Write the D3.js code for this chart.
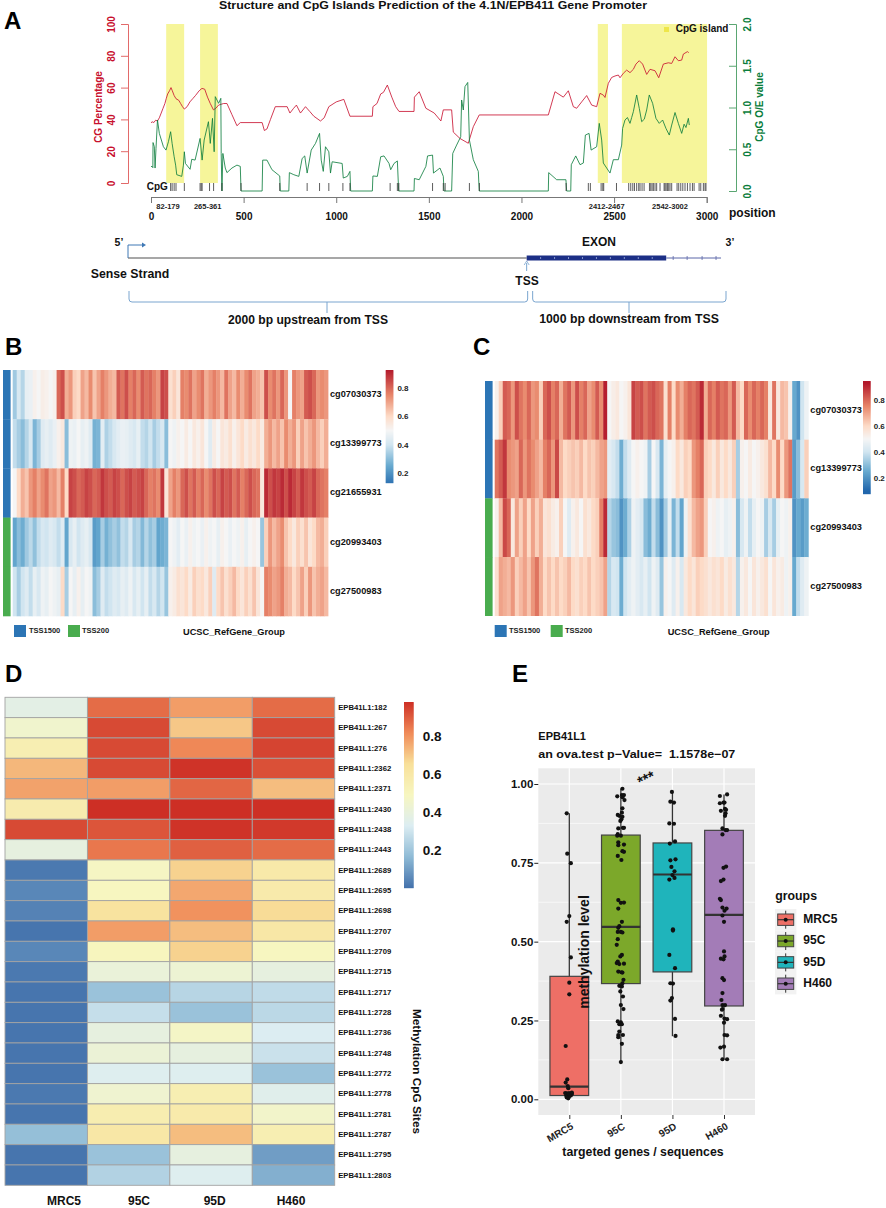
<!DOCTYPE html>
<html><head><meta charset="utf-8">
<script src="https://cdnjs.cloudflare.com/ajax/libs/d3/7.8.5/d3.min.js"></script>
<style>html,body{margin:0;padding:0;background:#fff}svg{display:block}text{font-family:"Liberation Sans",Arial,sans-serif;font-weight:bold}</style>
</head><body><svg id="c" width="886" height="1208"></svg>
<script>
// ---------- Panel A data ----------
const cgPos=[0,10,15,25,35,45,55,65,75,82,90,100,108,115,125,135,150,160,170,180,195,210,225,240,260,275,290,305,320,337,350,365,392,410,437,464,482,600,612,626,645,671,735,750,770,785,807,834,857,879,915,935,960,1000,1041,1074,1195,1198,1220,1240,1255,1276,1300,1321,1339,1420,1422,1448,1484,1529,1565,1578,1623,1632,1668,1713,1740,1772,2145,2181,2226,2253,2280,2298,2325,2352,2379,2406,2424,2442,2451,2469,2487,2505,2523,2532,2550,2568,2586,2604,2618,2636,2654,2676,2694,2721,2741,2766,2793,2811,2829,2847,2865,2874,2896,2903];
const cgVal=[38,38.5,38,39.5,39,41,44,47,50,53,56,58,60,58,55,53,52,50,48,46.5,48,51,53,55,58,59.5,59,54,50,46,47,49,50,50,43,36,38,38,33,34,40,48,48,44,47,49,44,48,45,42,39,41,48,51,52.6,42,42,48,50,56,57,61.6,54,48,45,45,54,57.4,47,44,39,46,46,32,28,25,35.4,42.8,42.8,57.4,54,58,48,47,51,55,49,48,56.4,55.3,53.8,62.7,66.4,67.3,67.9,66.2,69,71,69.4,71.5,74.8,76.9,74.8,68.3,71.5,70.6,66.2,74.8,75.6,75.2,79.4,76.9,77.3,81.1,82.6,82];
const oePos=[0,8,10,11,18,22,27,35,45,67,81,94,106,114,125,133,139,166,175,180,186,211,220,238,265,276,287,310,320,332,341,347,365,377,379,383,388,401,410,437,464,482,486,600,603,626,653,695,698,744,747,771,798,816,830,843,865,888,910,919,930,942,960,969,978,1032,1038,1060,1074,1078,1195,1198,1222,1240,1258,1285,1294,1312,1330,1337,1420,1422,1448,1484,1493,1520,1525,1560,1578,1582,1623,1629,1650,1672,1677,1686,1695,1710,1719,1740,1767,1772,2145,2147,2190,2240,2244,2266,2269,2293,2316,2334,2345,2365,2376,2406,2420,2433,2442,2478,2496,2523,2541,2546,2559,2572,2586,2595,2604,2622,2636,2649,2663,2676,2690,2708,2726,2744,2762,2780,2798,2811,2829,2847,2865,2878,2888,2901,2906];
const oeVal=[.295,.29,.28,.58,.53,.275,.51,.85,.69,.53,.49,.59,.71,.57,.41,.31,.195,.175,.31,.47,.33,.26,.38,.37,.63,.37,.61,.83,.57,.87,.47,1.13,1.05,1.11,.45,0,.45,.275,.22,.275,.31,.295,0,0,.37,.37,.255,.18,0,0,.22,.195,.175,.39,.42,.215,.49,.57,.69,.37,.235,.53,.47,.215,.35,.33,.155,.175,.235,0,0,.18,.175,.41,.42,.33,.255,.33,.36,0,0,.15,.135,.295,.42,.43,.215,.275,.175,0,0,.45,.55,.65,1.09,.97,1.25,1.3,.61,.375,.235,0,0,.22,.135,.135,0,0,.315,.42,.315,.335,.67,.69,.49,.53,.81,.61,.335,.215,.375,.375,.55,.75,.85,.88,.81,.88,.95,1.15,.99,.83,.86,.97,1.15,1.05,.87,.81,.85,.75,.67,.79,.94,.81,.69,.8,.76,.87,.79];
const cpgSites=[106,114,125,135,180,265,271,276,316,338,383,486,695,843,910,960,1036,1074,1291,1330,1338,1520,1588,1578,1719,1773,2241,2361,2372,2430,2439,2444,2513,2579,2590,2601,2610,2622,2633,2640,2651,2662,2691,2698,2705,2712,2721,2730,2748,2770,2775,2781,2788,2795,2802,2811,2840,2849,2860,2871,2883,2896,2910,2923,2932,2959,2968,2982,2991,2996];
const islandStart=[82,265,2412,2542];
const islandEnd=[179,361,2467,3002];
const islandLabels=["82-179","265-361","2412-2467","2542-3002"];
const posTicks=[0,500,1000,1500,2000,2500,3000];
const pctTicks=[0,20,40,60,80,100];
const oeTicks=[0,.5,1,1.5,2];

// ---------- Panel B data ----------
const bRows=["cg07030373","cg13399773","cg21655931","cg20993403","cg27500983"];
const b_cg07030373=[.33,.42,.36,.46,.47,.52,.5,.53,.52,.5,.52,.8,.84,.68,.72,.62,.6,.7,.66,.74,.64,.7,.76,.72,.68,.66,.82,.78,.84,.76,.8,.74,.82,.78,.8,.76,.72,.86,.84,.58,.62,.56,.76,.74,.78,.7,.74,.78,.68,.72,.76,.72,.66,.78,.7,.66,.74,.68,.74,.78,.7,.68,.64,.84,.74,.78,.72,.8,.72,.5,.76,.72,.7,.82,.84,.8,.72,.74,.72];
const b_cg13399773=[.38,.34,.3,.36,.42,.28,.34,.44,.46,.44,.47,.52,.55,.3,.48,.47,.5,.46,.48,.44,.27,.28,.45,.35,.38,.42,.45,.47,.46,.44,.42,.46,.38,.36,.4,.34,.38,.42,.3,.5,.48,.52,.5,.54,.5,.55,.52,.56,.5,.44,.54,.5,.56,.54,.58,.52,.56,.6,.54,.58,.55,.6,.54,.68,.72,.66,.7,.64,.74,.68,.72,.62,.7,.64,.68,.72,.66,.62,.68];
const b_cg21655931=[.5,.6,.68,.64,.72,.76,.7,.74,.78,.7,.72,.66,.76,.6,.86,.84,.8,.82,.86,.84,.8,.82,.88,.84,.82,.86,.84,.8,.84,.86,.82,.84,.86,.8,.76,.78,.74,.88,.56,.7,.76,.72,.8,.84,.78,.82,.76,.8,.74,.78,.84,.8,.86,.82,.84,.78,.82,.76,.8,.84,.8,.78,.55,.9,.84,.88,.86,.9,.84,.9,.86,.82,.88,.84,.82,.86,.8,.78,.76];
const b_cg20993403=[.24,.3,.26,.33,.37,.31,.38,.42,.4,.44,.42,.38,.44,.24,.42,.46,.4,.44,.46,.42,.22,.24,.34,.27,.31,.34,.31,.38,.36,.42,.34,.36,.29,.36,.31,.34,.24,.26,.28,.5,.48,.45,.5,.47,.52,.48,.5,.47,.52,.48,.5,.46,.52,.5,.47,.5,.48,.52,.46,.5,.52,.5,.32,.62,.72,.66,.7,.74,.64,.6,.55,.62,.58,.64,.56,.6,.66,.68,.62];
const b_cg27500983=[.4,.34,.4,.44,.38,.46,.42,.48,.46,.5,.48,.46,.6,.34,.5,.46,.52,.46,.5,.48,.3,.34,.44,.38,.4,.44,.42,.46,.44,.48,.42,.46,.4,.46,.38,.42,.36,.4,.32,.52,.54,.58,.56,.6,.54,.62,.58,.6,.55,.62,.44,.6,.64,.58,.62,.66,.6,.56,.62,.58,.64,.56,.5,.76,.74,.7,.72,.76,.68,.66,.6,.64,.7,.62,.72,.64,.68,.7,.66];
const bGroups=["TSS1500","TSS1500","TSS1500","TSS200","TSS200"];

// ---------- Panel C data ----------
const cRows=["cg07030373","cg13399773","cg20993403","cg27500983"];
const c_cg07030373=[.52,.62,.82,.8,.72,.84,.78,.74,.8,.72,.74,.62,.8,.84,.76,.8,.68,.78,.82,.72,.84,.76,.8,.7,.74,.82,.74,.92,.5,.53,.55,.5,.52,.56,.86,.82,.84,.78,.82,.84,.8,.78,.58,.76,.6,.74,.68,.76,.8,.78,.82,.9,.68,.8,.76,.82,.78,.8,.72,.82,.66,.6,.8,.74,.8,.76,.8,.76,.55,.78,.55,.66,.64,.52,.25,.2,.4,.48];
const c_cg13399773=[.78,.82,.88,.74,.72,.7,.8,.72,.78,.74,.7,.66,.76,.8,.72,.85,.66,.6,.62,.64,.62,.66,.6,.64,.62,.66,.7,.72,.45,.42,.38,.26,.38,.44,.5,.52,.5,.48,.34,.5,.42,.28,.46,.5,.52,.6,.55,.62,.6,.72,.76,.8,.62,.6,.55,.62,.55,.6,.55,.62,.34,.52,.5,.54,.5,.52,.55,.58,.66,.6,.74,.6,.72,.78,.22,.3,.42,.62];
const c_cg20993403=[.52,.66,.85,.8,.55,.7,.62,.7,.6,.7,.62,.68,.56,.58,.54,.52,.62,.5,.44,.52,.55,.5,.58,.55,.6,.62,.76,.9,.36,.32,.3,.2,.26,.35,.48,.45,.42,.3,.26,.38,.3,.2,.34,.46,.28,.38,.24,.48,.58,.66,.7,.72,.62,.5,.52,.48,.5,.46,.48,.52,.3,.42,.48,.38,.46,.5,.48,.34,.42,.34,.46,.5,.48,.52,.2,.25,.22,.26];
const c_cg27500983=[.58,.7,.68,.66,.72,.62,.66,.7,.64,.72,.78,.68,.6,.64,.6,.64,.6,.62,.66,.6,.58,.62,.6,.64,.6,.62,.64,.7,.36,.42,.4,.26,.4,.45,.48,.45,.42,.46,.4,.48,.44,.32,.52,.5,.44,.52,.42,.55,.6,.56,.62,.6,.58,.55,.58,.56,.6,.54,.58,.55,.36,.52,.55,.5,.56,.52,.55,.58,.5,.56,.52,.54,.48,.52,.25,.38,.44,.48];
const cGroups=["TSS1500","TSS1500","TSS200","TSS200"];
const groupNames=["TSS1500","TSS200"];
const heatTicks=[.2,.4,.6,.8];

// ---------- Panel D data ----------
const dSites=["EPB41L1:182","EPB41L1:267","EPB41L1:276","EPB41L1:2362","EPB41L1:2371","EPB41L1:2430","EPB41L1:2438","EPB41L1:2443","EPB41L1:2689","EPB41L1:2695","EPB41L1:2698","EPB41L1:2707","EPB41L1:2709","EPB41L1:2715","EPB41L1:2717","EPB41L1:2728","EPB41L1:2736","EPB41L1:2748","EPB41L1:2772","EPB41L1:2778","EPB41L1:2781","EPB41L1:2787","EPB41L1:2795","EPB41L1:2803"];
const dSamples=["MRC5","95C","95D","H460"];
const dMRC5=[.37,.45,.55,.73,.77,.57,.93,.39,.02,.05,.04,.01,.05,.02,.01,.01,.01,.01,.01,.02,.01,.18,.01,.01];
const d95C=[.87,.93,.93,.93,.78,.99,.91,.85,.48,.49,.63,.78,.5,.41,.19,.28,.39,.42,.34,.44,.56,.6,.19,.24];
const d95D=[.78,.7,.82,.97,.88,.98,.97,.89,.68,.76,.8,.72,.68,.43,.25,.19,.47,.39,.34,.55,.58,.72,.39,.34];
const dH460=[.87,.93,.94,.92,.72,.98,.96,.87,.59,.58,.66,.6,.49,.39,.27,.26,.33,.29,.19,.35,.46,.55,.1,.14];
const dTicks=[.2,.4,.6,.8];

// ---------- Panel E data (value per point, jitter in hundredths of a category step) ----------
const eGroups=["MRC5","95C","95D","H460"];
const eQ1=[.012,.367,.404,.296];
const eMedian=[.04,.547,.713,.585];
const eQ3=[.39,.838,.813,.853];
const eLow=[0,.118,.2,.127];
const eHigh=[.907,.985,.975,.967];
const eFill=["#EE6F66","#7CA82A","#1FB4BB","#A37CB7"];
const eTicks=[0,.25,.5,.75,1];
const eMRC5v=[.907,.779,.749,.581,.563,.45,.37,.333,.169,.063,.053,.042,.035,.02,.019,.017,.019,.017,.012,.008,.01,.012,.003,.006,.014,.019,.021];
const eMRC5j=[-5,-4,3,0,-5,3,0,0,-7,-4,-7,-3,-2,-8,-5,-2,1,5,-6,-4,0,3,-2,-5,1,-1,5];
const e95Cv=[.985,.961,.965,.965,.958,.949,.923,.909,.902,.899,.896,.888,.883,.861,.859,.861,.841,.836,.836,.815,.806,.808,.787,.785,.772,.759,.632,.623,.624,.605,.563,.549,.544,.531,.531,.529,.508,.49,.458,.453,.437,.432,.43,.429,.405,.403,.402,.379,.368,.36,.358,.342,.326,.299,.286,.247,.244,.238,.238,.215,.204,.204,.197,.176,.118];
const e95Cj=[3,-7,2,6,3,7,3,2,-6,-3,3,1,-1,4,-5,6,-6,-7,0,-5,-5,6,3,6,-6,1,-5,0,6,-5,2,-3,-5,0,-6,3,-6,-8,2,-1,-6,-8,6,-3,-5,1,3,5,3,-3,2,-1,4,0,5,-6,0,-3,2,-3,-5,4,-5,2,0];
const e95Dv=[.975,.944,.941,.875,.874,.811,.818,.758,.761,.737,.723,.711,.702,.697,.539,.535,.458,.416,.368,.367,.321,.313,.255,.201];
const e95Dj=[-1,-4,3,-6,3,-5,5,-4,6,-2,4,0,4,-6,1,1,-6,5,-4,1,-1,-4,5,6];
const eH460v=[.962,.967,.939,.941,.941,.915,.921,.918,.907,.899,.859,.854,.854,.84,.734,.738,.692,.697,.636,.632,.608,.605,.598,.583,.563,.469,.453,.446,.444,.384,.378,.337,.315,.299,.299,.286,.284,.265,.256,.254,.243,.204,.203,.167,.164,.127,.127];
const eH460j=[-8,6,-8,-1,1,-6,2,4,3,2,-3,3,6,-3,-1,4,-6,-1,-8,-6,-3,5,1,-3,0,0,1,-6,-1,-3,0,-3,-5,-3,2,-3,-4,-6,1,6,0,1,6,0,-7,-3,6];
const eValues=[eMRC5v,e95Cv,e95Dv,eH460v];
const eJitter=[eMRC5j,e95Cj,e95Dj,eH460j];

// ---------- Helpers ----------
const svg=d3.select("#c");
const RED="#c8102e",GREEN="#0b7d3c";
function txt(g,x,y,s,size,opt={}){
  const t=g.append("text").attr("x",x).attr("y",y).attr("font-size",size).attr("fill",opt.fill||"#111")
    .attr("text-anchor",opt.anchor||"start").attr("dominant-baseline",opt.base||"middle").text(s);
  if(opt.rot!=null)t.attr("transform",`rotate(${opt.rot} ${x} ${y})`);
  if(opt.len)t.attr("textLength",opt.len).attr("lengthAdjust","spacingAndGlyphs");
  return t;
}
[["A",4,29],["B",5,355],["C",473,355],["D",5,681.5],["E",512,681.5]].forEach(d=>
  txt(svg,d[1],d[2],d[0],24,{base:"auto",fill:"#000"}));

// ---------- Panel A ----------
(function(){
  const g=svg.append("g");
  const x=d3.scaleLinear([0,3000],[151,706.7]);
  const yP=d3.scaleLinear([0,100],[183,24]);
  const yO=d3.scaleLinear([0,2],[191,24]);
  txt(g,433,6.5,"Structure and CpG Islands Prediction of the 4.1N/EPB411 Gene Promoter",11,{anchor:"middle",len:428,fill:"#111"});
  g.selectAll("rect.isl").data(islandStart).join("rect").attr("x",d=>x(d)).attr("width",(d,i)=>x(islandEnd[i])-x(d))
    .attr("y",yP(100)).attr("height",yP(0)-yP(100)).attr("fill","#f6f59a");
  g.append("path").attr("fill","none").attr("stroke",RED).attr("stroke-opacity",.82).attr("stroke-width",1)
    .attr("d",d3.line().x(d=>x(cgPos[d])).y(d=>yP(cgVal[d]))(d3.range(cgPos.length)));
  g.append("path").attr("fill","none").attr("stroke",GREEN).attr("stroke-opacity",.82).attr("stroke-width",1)
    .attr("d",d3.line().x(d=>x(oePos[d])).y(d=>yO(oeVal[d]))(d3.range(oePos.length)));
  g.selectAll("line.cpg").data(cpgSites).join("line").attr("x1",d=>x(d)).attr("x2",d=>x(d))
    .attr("y1",yP(0)).attr("y2",yO(0)).attr("stroke","#333").attr("stroke-width",.8);
  txt(g,146.7,190,"CpG",10,{base:"auto"});
  const ax=g.append("g").attr("transform","translate(0,197)").call(d3.axisBottom(x).tickValues(posTicks).tickSize(6).tickFormat(d3.format("d")));
  ax.selectAll("path,line").attr("stroke","#777");
  ax.selectAll("text").attr("font-size",10).attr("fill","#111").attr("y",15.5).attr("dy","0.71em");
  const al=g.append("g").attr("transform","translate(128,0)").call(d3.axisLeft(yP).tickValues(pctTicks).tickSize(7));
  al.selectAll("path,line").attr("stroke","#e26a6a");
  al.selectAll("text").attr("font-size",10).attr("fill",RED).attr("text-anchor","middle").attr("dy",0).attr("x",0).attr("y",0)
    .attr("dominant-baseline","middle").attr("transform","translate(-16,0) rotate(-90)");
  txt(g,99,107,"CG Percentage",10,{anchor:"middle",fill:RED,rot:-90});
  const ar=g.append("g").attr("transform","translate(736,0)").call(d3.axisLeft(yO).tickValues(oeTicks).tickSize(7).tickFormat(d3.format(".1f")));
  ar.selectAll("path,line").attr("stroke","#5aa672");
  ar.selectAll("text").attr("font-size",10).attr("fill",GREEN).attr("text-anchor","middle").attr("dy",0).attr("x",0).attr("y",0)
    .attr("dominant-baseline","middle").attr("transform","translate(12,0) rotate(-90)");
  txt(g,760,107,"CpG O/E value",10,{anchor:"middle",fill:GREEN,rot:-90});
  g.append("rect").attr("x",664).attr("y",27).attr("width",5).attr("height",5).attr("fill","#eee64a");
  txt(g,675.7,29.5,"CpG island",10);
  const labelX=[168,207.7,606.7,670];
  islandLabels.forEach((s,i)=>txt(g,labelX[i],207.5,s,7.5,{anchor:"middle",fill:"#222"}));
  txt(g,729,214,"position",12);

  // gene structure
  const gx=d3.scaleLinear([-2000,1000],[128,726]);
  const gy=258, BL="#7aa5cf";
  g.append("line").attr("x1",gx(-2000)).attr("x2",gx(0)).attr("y1",gy).attr("y2",gy).attr("stroke","#8a8a8a").attr("stroke-width",1.5);
  g.append("path").attr("d",`M${gx(-2000)},${gy}V245H${gx(-2000)+15}`).attr("fill","none").attr("stroke","#3f78b5").attr("stroke-width",1);
  g.append("path").attr("d",`M${gx(-2000)+14},242.5l4,2.5l-4,2.5z`).attr("fill","#3f78b5");
  g.append("rect").attr("x",gx(0)).attr("y",255.5).attr("width",gx(700)-gx(0)).attr("height",5).attr("fill","#1c2f86");
  g.append("line").attr("x1",gx(700)).attr("x2",gx(975)).attr("y1",gy).attr("y2",gy).attr("stroke","#5a66a8").attr("stroke-width",1);
  d3.range(70,700,70).forEach(d=>g.append("line").attr("x1",gx(d)).attr("x2",gx(d)).attr("y1",gy-1).attr("y2",gy+1).attr("stroke","#9fb0dd").attr("stroke-width",.8));
  [735,805,880,950].forEach(d=>g.append("line").attr("x1",gx(d)).attr("x2",gx(d)).attr("y1",gy-2).attr("y2",gy+2).attr("stroke","#5a66a8").attr("stroke-width",.8));
  g.append("line").attr("x1",gx(0)).attr("x2",gx(0)).attr("y1",271).attr("y2",263).attr("stroke",BL).attr("stroke-width",1);
  g.append("path").attr("d",`M${gx(0)-2.5},265l2.5,-4l2.5,4`).attr("fill","none").attr("stroke",BL).attr("stroke-width",.8);
  txt(g,119,243,"5’",10.5,{anchor:"middle"});
  txt(g,730,243,"3’",10.5,{anchor:"middle"});
  txt(g,599,243,"EXON",12,{anchor:"middle"});
  txt(g,130,275,"Sense Strand",12.3,{anchor:"middle"});
  txt(g,527,282,"TSS",12,{anchor:"middle"});
  function brace(x0,x1,xm){
    g.append("path").attr("fill","none").attr("stroke",BL).attr("stroke-width",1)
      .attr("d",`M${x0},291V299Q${x0},302 ${x0+3},302H${x1-3}Q${x1},302 ${x1},299V291M${xm},302V313`);
  }
  brace(gx(-2000)+1,gx(0)+1,327);
  brace(gx(0)+6,gx(1000),629);
  txt(g,308,321,"2000 bp upstream from TSS",12.1,{anchor:"middle"});
  txt(g,629,320,"1000 bp downstream from TSS",12.3,{anchor:"middle"});
})();

// ---------- Panels B, C ----------
function methHeat(o){
  const g=svg.append("g");
  const y=d3.scaleBand().domain(o.rows).range([o.y0,o.y1]);
  const color=d3.scaleLinear().domain([.1,.25,.4,.5,.6,.75,.93]).range(["#2166ac","#67a9cf","#d1e5f0","#f5f5f5","#fddbc7","#e8866a","#b2182b"]).clamp(true);
  o.rows.forEach((r,i)=>{
    const vals=o.data[i];
    const x=d3.scaleBand().domain(d3.range(vals.length)).range([o.x0,o.x1]);
    g.append("g").selectAll("rect").data(vals).join("rect")
      .attr("x",(d,k)=>x(k)).attr("y",y(r)).attr("width",x.bandwidth()+.4).attr("height",y.bandwidth()+.3)
      .attr("fill",d=>color(d));
    g.append("text").attr("x",o.x1+2).attr("y",y(r)+y.bandwidth()/2).attr("dominant-baseline","middle").attr("font-size",9.2).attr("fill","#111").text(r);
    g.append("rect").attr("x",o.ax).attr("y",y(r)).attr("width",7.6).attr("height",y.bandwidth()+.3)
      .attr("fill",o.groups[i]==="TSS1500"?"#2c75b5":"#49ac4e");
  });
  const cy=d3.scaleLinear([o.cbMin,o.cbMax],[o.cb1,o.cb0]);
  g.append("g").selectAll("rect").data(d3.range(o.cb0,o.cb1,1)).join("rect")
    .attr("x",o.cbx).attr("y",d=>d).attr("width",7.7).attr("height",1.2).attr("fill",d=>color(cy.invert(d+.5)));
  const ca=g.append("g").attr("transform",`translate(${o.cbx+7.7},0)`).call(d3.axisRight(cy).tickValues(heatTicks).tickSize(0).tickPadding(o.tp).tickFormat(d3.format(".1f")));
  ca.select("path").remove();
  ca.selectAll("text").attr("font-size",8).attr("fill","#222");
  const lx=[o.l0,o.l1],tx=[o.t0,o.t1],c=["#2c75b5","#49ac4e"];
  groupNames.forEach((n,i)=>{
    g.append("rect").attr("x",lx[i]).attr("y",625).attr("width",12).attr("height",12).attr("fill",c[i]);
    txt(g,tx[i],631,n,7.5,{fill:"#222"});
  });
  txt(g,o.ux,632.5,"UCSC_RefGene_Group",9.2,{fill:"#111",len:o.ul});
}
methHeat({rows:bRows,data:[b_cg07030373,b_cg13399773,b_cg21655931,b_cg20993403,b_cg27500983],groups:bGroups,x0:12.7,x1:328,y0:370,y1:616,ax:3,
  cbx:385.7,cb0:370,cb1:483,cbMin:.13,cbMax:.927,tp:4,l0:14,t0:29,l1:68,t1:82,ux:183,ul:102});
methHeat({rows:cRows,data:[c_cg07030373,c_cg13399773,c_cg20993403,c_cg27500983],groups:cGroups,x0:494.7,x1:808.3,y0:381,y1:615.7,ax:485,
  cbx:863,cb0:381,cb1:493.3,cbMin:.082,cbMax:.946,tp:3,l0:494.7,t0:509,l1:550.7,t1:565,ux:667.7,ul:102});

// ---------- Panel D ----------
(function(){
  const g=svg.append("g");
  const x=d3.scaleBand().domain(dSamples).range([5,334.7]);
  const y=d3.scaleBand().domain(dSites).range([697.3,1185.3]);
  const stops=["#4472ac","#8fbbd6","#dcedf2","#f7f6c0","#f8e09a","#f08a58","#cd2f25"];
  const vMin=.004,vMax=.978;
  const color=d3.scaleLinear().domain(stops.map((s,i)=>vMin+(vMax-vMin)*i/6)).range(stops).clamp(true);
  [dMRC5,d95C,d95D,dH460].forEach((vals,j)=>{
    g.append("g").selectAll("rect").data(vals).join("rect")
      .attr("x",x(dSamples[j])).attr("y",(d,i)=>y(dSites[i])).attr("width",x.bandwidth()).attr("height",y.bandwidth())
      .attr("fill",d=>color(d)).attr("stroke","#a3a3a3").attr("stroke-width",.9);
  });
  const ra=g.append("g").attr("transform","translate(334.7,0)").call(d3.axisRight(y).tickSize(0).tickPadding(3.5));
  ra.select("path").remove();
  ra.selectAll("text").attr("font-size",7.7).attr("fill","#111");
  const centers=[64,139,214.7,291];
  dSamples.forEach((s,i)=>txt(g,centers[i],1202,s,12,{anchor:"middle",fill:"#111"}));
  txt(g,416,1071.5,"Methylation CpG Sites",11.8,{anchor:"middle",rot:90,fill:"#111"});
  const cy=d3.scaleLinear([vMin,vMax],[887.7,702]);
  g.append("g").selectAll("rect").data(d3.range(702,887.7,1)).join("rect")
    .attr("x",404).attr("y",d=>d).attr("width",9.7).attr("height",1.2).attr("fill",d=>color(cy.invert(d+.5)));
  const ca=g.append("g").attr("transform","translate(413.7,0)").call(d3.axisRight(cy).tickValues(dTicks).tickSize(0).tickPadding(9).tickFormat(d3.format(".1f")));
  ca.select("path").remove();
  ca.selectAll("text").attr("font-size",13.5).attr("fill","#111");
})();

// ---------- Panel E ----------
(function(){
  const g=svg.append("g");
  const x=d3.scalePoint().domain(eGroups).range([569.3,724]);
  const step=x.step();
  const y=d3.scaleLinear([0,1],[1099.3,784]);
  const bw=38.7;
  const px0=538.3,px1=755,py0=768.3,py1=1115;
  g.append("rect").attr("x",px0).attr("y",py0).attr("width",px1-px0).attr("height",py1-py0).attr("fill","#ebebeb");
  [.125,.375,.625,.875].forEach(v=>g.append("line").attr("x1",px0).attr("x2",px1).attr("y1",y(v)).attr("y2",y(v)).attr("stroke","#fff").attr("stroke-width",.6));
  eTicks.forEach(v=>g.append("line").attr("x1",px0).attr("x2",px1).attr("y1",y(v)).attr("y2",y(v)).attr("stroke","#fff").attr("stroke-width",1.2));
  eGroups.forEach(c=>g.append("line").attr("x1",x(c)).attr("x2",x(c)).attr("y1",py0).attr("y2",py1).attr("stroke","#fff").attr("stroke-width",1.2));
  eGroups.forEach((c,i)=>{
    g.append("line").attr("x1",x(c)).attr("x2",x(c)).attr("y1",y(eHigh[i])).attr("y2",y(eLow[i])).attr("stroke","#333").attr("stroke-width",1.3);
    g.append("rect").attr("x",x(c)-bw/2).attr("width",bw).attr("y",y(eQ3[i])).attr("height",y(eQ1[i])-y(eQ3[i]))
      .attr("fill",eFill[i]).attr("stroke","#444").attr("stroke-width",1.2);
    g.append("line").attr("x1",x(c)-bw/2).attr("x2",x(c)+bw/2).attr("y1",y(eMedian[i])).attr("y2",y(eMedian[i])).attr("stroke","#333").attr("stroke-width",2.2);
    g.append("g").selectAll("circle").data(eValues[i]).join("circle")
      .attr("cx",(d,k)=>x(c)+eJitter[i][k]/100*step).attr("cy",d=>y(d)).attr("r",2.1).attr("fill","#111");
  });
  const ay=g.append("g").attr("transform",`translate(${px0},0)`).call(d3.axisLeft(y).tickValues(eTicks).tickSize(4).tickPadding(1).tickFormat(d3.format(".2f")));
  ay.select("path").remove();
  ay.selectAll("line").attr("stroke","#222");
  ay.selectAll("text").attr("font-size",11.5).attr("fill","#111");
  const ax=g.append("g").attr("transform",`translate(0,${py1})`).call(d3.axisBottom(x).tickSize(4));
  ax.select("path").remove();
  ax.selectAll("line").attr("stroke","#333");
  ax.selectAll("text").attr("font-size",10).attr("fill","#222").attr("text-anchor","end").attr("dy",0).attr("y",0).attr("x",0)
    .attr("dominant-baseline","middle").attr("transform","translate(3,11) rotate(-30)");
  txt(g,538.3,736.7,"EPB41L1",11,{});
  txt(g,538.3,754.7,"an ova.test p−Value=  1.1578e−07",11,{len:197}).style("white-space","pre");
  txt(g,646.7,780,"***",15,{anchor:"middle",rot:-25});
  txt(g,585,952,"methylation level",14,{anchor:"middle",rot:-90,fill:"#111"});
  txt(g,643,1153,"targeted genes / sequences",12.3,{anchor:"middle"});
  txt(g,775.3,897,"groups",12.3,{});
  const ly=d3.scalePoint().domain(eGroups).range([919.7,983.7]);
  eGroups.forEach((c,i)=>{
    const cy=ly(c),kx=785.7;
    g.append("rect").attr("x",kx-10.7).attr("y",cy-10.7).attr("width",21.4).attr("height",21.4).attr("fill","#f2f2f2");
    g.append("line").attr("x1",kx).attr("x2",kx).attr("y1",cy-9).attr("y2",cy+9).attr("stroke","#333");
    g.append("rect").attr("x",kx-8).attr("y",cy-5.7).attr("width",16).attr("height",11.4).attr("fill",eFill[i]).attr("stroke","#444");
    g.append("line").attr("x1",kx-8).attr("x2",kx+8).attr("y1",cy).attr("y2",cy).attr("stroke","#333").attr("stroke-width",1.2);
    g.append("circle").attr("cx",kx).attr("cy",cy).attr("r",2).attr("fill","#111");
    txt(g,803.3,cy,c,12,{});
  });
})();
</script></body></html>
